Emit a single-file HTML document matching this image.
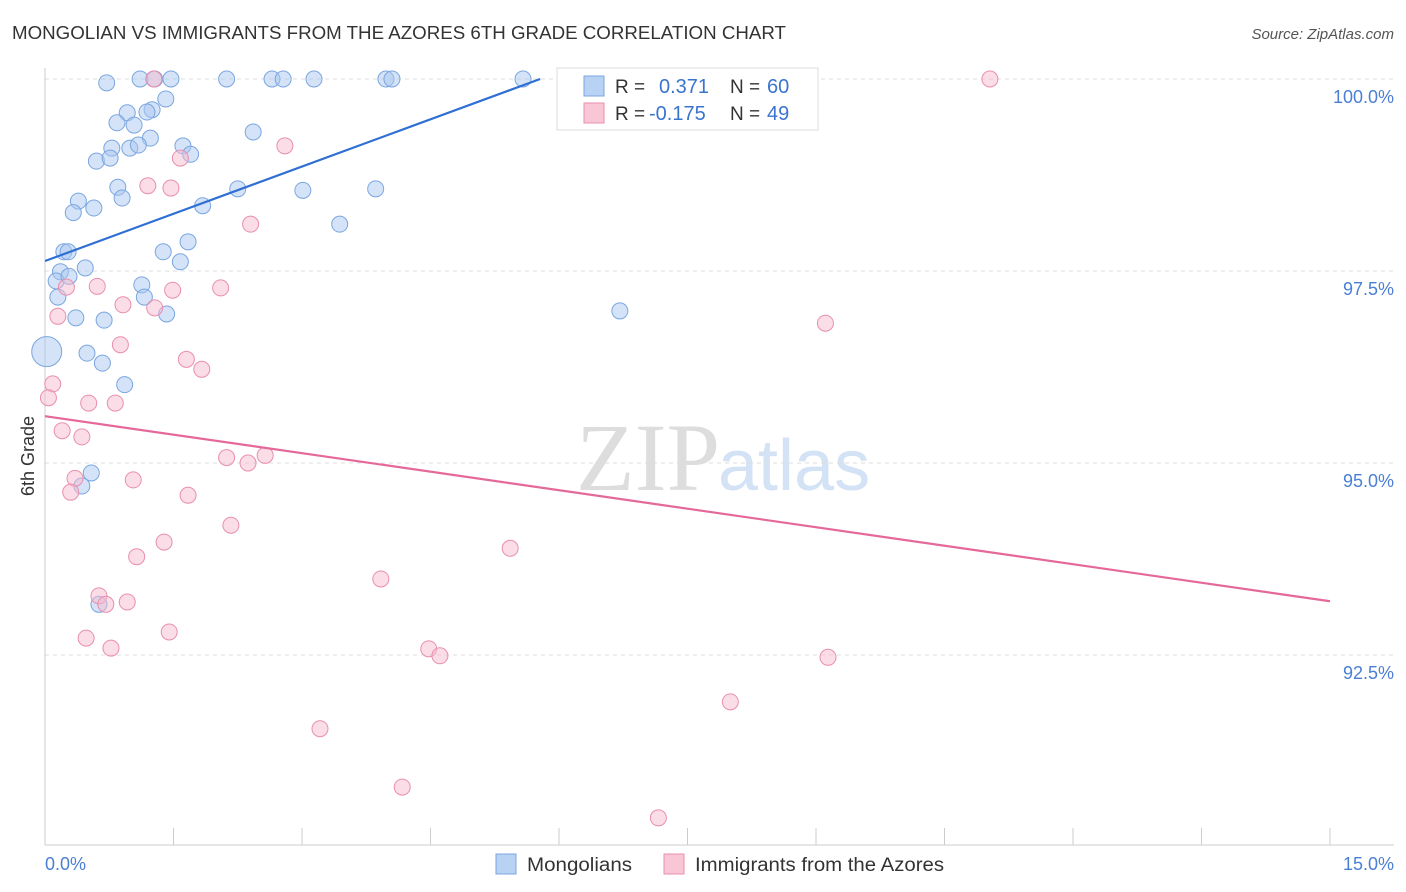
<!DOCTYPE html>
<html><head><meta charset="utf-8"><style>
body{margin:0;background:#fff;font-family:"Liberation Sans",sans-serif}
#wrap{position:relative;width:1406px;height:892px;overflow:hidden}
</style></head><body>
<div id="wrap">
<svg id="chart" width="1406" height="892">
<text x="12" y="39" font-size="18" fill="#333" textLength="774" lengthAdjust="spacingAndGlyphs">MONGOLIAN VS IMMIGRANTS FROM THE AZORES 6TH GRADE CORRELATION CHART</text>
<text x="1394" y="39" font-size="15" fill="#555" font-style="italic" text-anchor="end">Source: ZipAtlas.com</text>
<text x="720" y="490" font-size="96" fill="#ddd" text-anchor="end" font-family="Liberation Serif">ZIP</text>
<text x="718" y="490" font-size="72" fill="#d3e2f5">atlas</text>
<g id="grid"></g><g id="axes"></g><g id="pts"></g><g id="lines"></g>
<text transform="translate(34,456) rotate(-90)" font-size="18" fill="#333" text-anchor="middle">6th Grade</text>
<text x="45" y="870" font-size="18" fill="#4a7fd4">0.0%</text>
<text x="1394" y="870" font-size="18" fill="#4a7fd4" text-anchor="end">15.0%</text>
<g>
<rect x="557" y="68" width="261" height="62" fill="#fff" stroke="#ddd"/>
<rect x="584" y="76" width="20" height="20" fill="#b8d2f4" stroke="#7aa6e0"/>
<rect x="584" y="103" width="20" height="20" fill="#f9c6d6" stroke="#e98fae"/>
<text x="615" y="93" font-size="19" fill="#333">R =</text><text x="659" y="93" font-size="20" fill="#3a74d0">0.371</text>
<text x="730" y="93" font-size="19" fill="#333">N =</text><text x="767" y="93" font-size="20" fill="#3a74d0">60</text>
<text x="615" y="120" font-size="19" fill="#333">R =</text><text x="649" y="120" font-size="20" fill="#3a74d0">-0.175</text>
<text x="730" y="120" font-size="19" fill="#333">N =</text><text x="767" y="120" font-size="20" fill="#3a74d0">49</text>
</g>
<g>
<rect x="496" y="854" width="20" height="20" fill="#b8d2f4" stroke="#7aa6e0"/>
<text x="527" y="871" font-size="19" fill="#333" textLength="105" lengthAdjust="spacingAndGlyphs">Mongolians</text>
<rect x="664" y="854" width="20" height="20" fill="#f9c6d6" stroke="#e98fae"/>
<text x="695" y="871" font-size="19" fill="#333" textLength="249" lengthAdjust="spacingAndGlyphs">Immigrants from the Azores</text>
</g>
</svg></div>
<script>
const yTicks=[100,97.5,95,92.5];
const yTickLabels=["100.0%","97.5%","95.0%","92.5%"];
const xTicks=[0,1.5,3,4.5,6,7.5,9,10.5,12,13.5,15];
const blueX=[0.72,1.11,1.28,1.47,2.12,2.65,2.78,3.14,3.98,4.05,5.58,1.41,0.96,1.25,1.19,0.84,1.04,1.23,0.78,0.99,1.09,1.61,1.70,0.60,0.76,2.43,0.85,0.90,2.25,3.01,3.86,0.39,0.33,0.57,1.84,3.44,0.22,0.27,1.38,1.67,1.58,0.47,0.18,0.13,0.28,1.13,0.15,1.16,0.36,0.69,1.42,6.71,0.02,0.49,0.67,0.93,0.54,0.43,0.63];
const blueY=[99.95,100,100,100,100,100,100,100,100,100,100,99.74,99.56,99.60,99.57,99.43,99.40,99.23,99.10,99.10,99.14,99.13,99.02,98.93,98.97,99.31,98.59,98.45,98.57,98.55,98.57,98.41,98.26,98.32,98.35,98.11,97.75,97.75,97.75,97.88,97.62,97.54,97.49,97.37,97.43,97.32,97.16,97.16,96.89,96.86,96.94,96.98,96.45,96.43,96.30,96.02,94.87,94.70,93.16];
const pinkX=[1.27,11.03,2.80,1.58,1.20,1.47,2.40,0.25,0.61,2.05,1.49,0.91,1.28,0.15,9.11,0.88,1.65,1.83,0.09,0.04,0.51,0.82,0.20,0.43,2.57,2.12,2.37,0.35,1.03,0.30,1.67,2.17,1.39,5.43,1.07,3.92,0.63,0.71,0.96,0.48,1.45,0.77,4.48,4.61,9.14,8.00,3.21,4.17,7.16];
const pinkY=[100,100,99.13,98.97,98.61,98.58,98.11,97.29,97.30,97.28,97.25,97.06,97.02,96.91,96.82,96.54,96.35,96.22,96.03,95.85,95.78,95.78,95.42,95.34,95.10,95.07,95.00,94.80,94.78,94.62,94.58,94.19,93.97,93.89,93.78,93.49,93.27,93.16,93.19,92.72,92.80,92.59,92.58,92.49,92.47,91.89,91.54,90.78,90.38];
const blueTrend=[[0,97.63],[5.78,100]];
const pinkTrend=[[0,95.61],[15,93.20]];
const NS="http://www.w3.org/2000/svg";
const xs=v=>45+v/15*1285, ys=v=>79+(100-v)/2.5*192;
function mk(t,a,p){const e=document.createElementNS(NS,t);for(const k in a)e.setAttribute(k,a[k]);p.appendChild(e);return e;}
const grid=document.getElementById('grid'),axes=document.getElementById('axes'),pts=document.getElementById('pts'),lines=document.getElementById('lines');
yTicks.forEach((t,i)=>{
 const l=mk('line',{x1:45,x2:1394,y1:ys(t),y2:ys(t),stroke:'#ddd','stroke-dasharray':'4,4'},grid);
 
 
 const tx=mk('text',{x:1394,y:ys(t)+24,'font-size':18,fill:'#4a7fd4','text-anchor':'end'},grid);
 tx.textContent=yTickLabels[i];
 
 
});
const ax=mk('line',{x1:45,x2:45,y1:68,y2:845,stroke:'#ccc'},axes);


const bx=mk('line',{x1:45,x2:1394,y1:845,y2:845,stroke:'#ccc'},axes);


xTicks.forEach(t=>{
 const l=mk('line',{x1:xs(t),x2:xs(t),y1:828,y2:845,stroke:'#ccc'},axes);
 
 
});
function dots(X,Y,fill,stroke,name){
 X.forEach((x,i)=>{
  const big=(name==='mongolian-point'&&i===52);
  const c=mk('circle',{cx:xs(x),cy:ys(Y[i]),r:big?15:8,fill:fill,'fill-opacity':0.5,stroke:stroke,'stroke-width':1},pts);
  
  
 });
}
dots(blueX,blueY,'#a9c8f0','#7aa6e0','mongolian-point');
dots(pinkX,pinkY,'#f6bcd0','#e98fae','azores-point');
const b=mk('line',{x1:xs(blueTrend[0][0]),y1:ys(blueTrend[0][1]),x2:xs(blueTrend[1][0]),y2:ys(blueTrend[1][1]),stroke:'#2f6fd3','stroke-width':2.2},lines);


const p=mk('line',{x1:xs(pinkTrend[0][0]),y1:ys(pinkTrend[0][1]),x2:xs(pinkTrend[1][0]),y2:ys(pinkTrend[1][1]),stroke:'#e5689a','stroke-width':2.2},lines);


</script>
</body></html>
